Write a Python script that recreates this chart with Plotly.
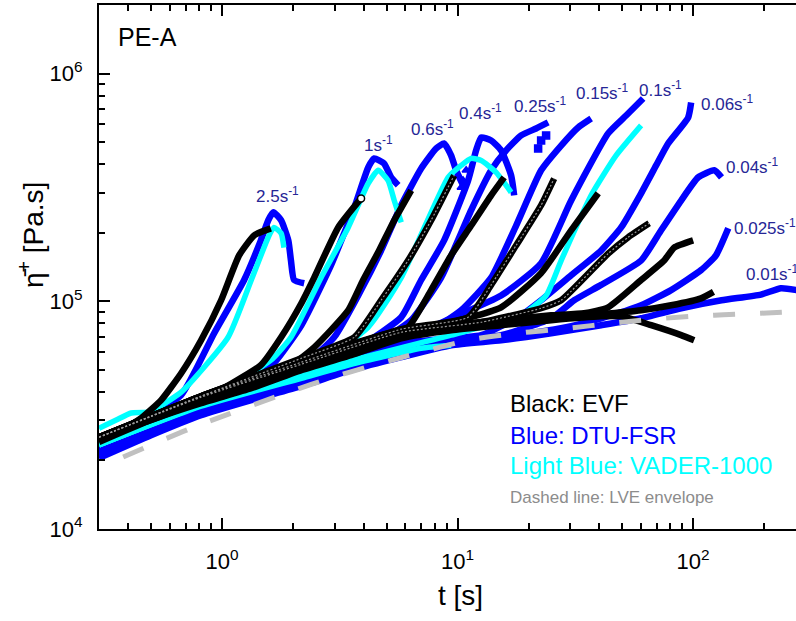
import math
import plotly.graph_objects as go

# ---------------- EVF (black) ----------------
t_evf_2p5 = [0.30, 0.372, 0.453, 0.551, 0.670, 0.814, 0.99, 1.18, 1.37, 1.61]
eta_evf_2p5 = [24600, 27200, 30700, 36800, 48300, 67400, 101000, 159000, 195000, 209000]
t_evf_1 = [0.30, 0.499, 0.814, 1.46, 1.78, 2.17, 2.46, 3.11, 3.89]
eta_evf_1 = [25100, 30100, 36800, 52400, 69500, 98000, 127000, 211000, 283000]
t_evf_0p6 = [0.30, 0.814, 1.78, 2.46, 3.43, 3.97, 4.64, 5.32, 6.35]
eta_evf_0p6 = [25100, 37500, 48800, 62800, 91300, 124000, 167000, 222000, 307000]
t_evf_0p4 = [0.30, 0.814, 2.17, 3.64, 4.73, 6.16, 7.72, 9.66]
eta_evf_0p4 = [25300, 38300, 56200, 69500, 101000, 151000, 227000, 357000]
t_evf_0p25 = [0.30, 0.814, 2.17, 4.73, 6.16, 7.72, 9.38, 11.41, 13.88, 15.76]
eta_evf_0p25 = [25300, 38300, 55100, 71000, 76900, 112000, 159000, 215000, 292000, 350000]
t_evf_0p15 = [0.30, 0.814, 2.17, 5.76, 11.08, 13.88, 17.72, 22.62, 25.69]
eta_evf_0p15 = [25300, 38300, 54000, 75400, 85100, 118000, 176000, 264000, 346000]
t_evf_0p1 = [0.30, 0.814, 2.17, 5.76, 9.38, 15.30, 22.62, 30.34, 39.52]
eta_evf_0p1 = [25300, 38300, 54000, 74600, 80900, 94100, 133000, 205000, 298000]
t_evf_0p06 = [0.30, 0.814, 2.17, 5.76, 12.59, 22.62, 27.51, 43.56, 52.97, 65.04]
eta_evf_0p06 = [25300, 37900, 52900, 73100, 80900, 93200, 101000, 162000, 191000, 220000]
t_evf_0p04 = [0.30, 0.814, 2.17, 5.76, 9.38, 15.30, 24.95, 34.45, 43.56, 60.14, 75.31, 83.05, 100]
eta_evf_0p04 = [25100, 37500, 52400, 72400, 78500, 82600, 86800, 88600, 94100, 124000, 151000, 172000, 185000]
t_evf_0p025 = [0.30, 0.499, 0.814, 1.33, 2.17, 3.53, 5.76, 9.38, 15.30, 24.95, 40.67, 60.14, 80.64, 108, 122]
eta_evf_0p025 = [24600, 31000, 36800, 42800, 51300, 61000, 71000, 76900, 80900, 84200, 87700, 91300, 96000, 103000, 110000]
t_evf_0p01 = [0.30, 0.499, 0.814, 1.33, 2.17, 3.53, 5.76, 9.38, 15.30, 24.95, 40.67, 49.46, 66.33, 88.92, 101]
eta_evf_0p01 = [24100, 30100, 35700, 41500, 49800, 58000, 68800, 74600, 78500, 82600, 85900, 85900, 78500, 71000, 67400]
t_evf_tri = [129, 135, 135, 142]
eta_evf_tri = [101000, 91300, 82600, 72400]
t_evf_start = [0.312, 0.325, 0.338, 0.358]
eta_evf_start = [20500, 19700, 21100, 19100]

# ---------------- DTU-FSR (blue) ----------------
t_dtu_2p5 = [0.30, 0.453, 0.670, 0.925, 1.24, 1.46, 1.57, 1.65, 1.78, 1.91, 1.96, 2.02, 2.23]
eta_dtu_2p5 = [21100, 29500, 38700, 72400, 124000, 185000, 227000, 246000, 227000, 185000, 151000, 124000, 120000]
t_dtu_1 = [0.30, 0.814, 1.33, 1.70, 2.17, 2.90, 3.64, 4.17, 4.42, 4.87, 5.22, 5.59]
eta_dtu_1 = [21800, 33900, 43700, 55100, 78500, 144000, 258000, 387000, 424000, 403000, 350000, 323000]
t_dtu_1_pts = [5.76, 5.93, 6.04, 6.22, 6.35, 6.54, 6.66, 6.86, 7.00]
eta_dtu_1_pts = [210000, 200000, 215000, 210000, 222000, 205000, 225000, 215000, 200000]
t_dtu_0p6 = [0.30, 0.814, 1.96, 2.99, 3.89, 4.73, 5.76, 7.00, 8.11, 8.76, 9.38, 9.85, 10.55]
eta_dtu_0p6 = [22200, 35000, 47400, 69500, 112000, 167000, 264000, 383000, 469000, 493000, 437000, 376000, 323000]
t_dtu_0p6_pts = [10.05, 10.55, 10.87, 10.35]
eta_dtu_0p6_pts = [357000, 339000, 376000, 316000]
t_dtu_0p4 = [0.30, 0.814, 2.17, 3.89, 5.76, 7.00, 8.76, 11.08, 11.98, 12.59, 13.88, 15.30, 16.87, 17.38]
eta_dtu_0p4 = [22200, 35000, 49800, 64100, 85100, 124000, 185000, 339000, 460000, 524000, 508000, 460000, 357000, 292000]
t_dtu_0p4_pts = [13.21, 14.57, 16.07, 13.88, 15.30, 16.87, 14.86, 16.39, 17.72, 12.59]
eta_dtu_0p4_pts = [562000, 592000, 535000, 460000, 395000, 415000, 339000, 307000, 323000, 483000]
t_dtu_0p25 = [0.30, 0.814, 2.17, 4.73, 6.35, 8.51, 11.41, 13.88, 16.07, 18.61, 21.54, 24.23]
eta_dtu_0p25 = [22200, 34600, 49800, 67400, 82600, 127000, 251000, 376000, 460000, 535000, 574000, 610000]
t_dtu_0p25_pts = [22.62, 21.97, 23.75]
eta_dtu_0p25_pts = [508000, 469000, 535000]
t_dtu_0p15 = [0.30, 0.814, 2.17, 5.76, 7.72, 10.35, 13.88, 17.72, 22.62, 27.51, 32.49, 36.90]
eta_dtu_0p15 = [22200, 34600, 48800, 67400, 74600, 91300, 127000, 215000, 376000, 483000, 580000, 635000]
t_dtu_0p15_pts = [33.4, 36.9, 39.5, 41.9, 40.7, 35.1, 38.7, 42.7]
eta_dtu_0p15_pts = [592000, 562000, 622000, 688000, 535000, 508000, 483000, 592000]
t_dtu_0p1 = [0.30, 0.814, 2.17, 5.76, 9.38, 15.30, 22.62, 30.34, 43.56, 51.93, 61.33]
eta_dtu_0p1 = [22200, 34600, 48800, 67400, 84200, 106000, 147000, 277000, 546000, 654000, 777000]
t_dtu_0p06 = [0.30, 0.814, 2.17, 5.76, 12.59, 18.61, 22.62, 30.34, 40.67, 49.46, 60.14, 69.65, 78.30, 95.24, 98.06]
eta_dtu_0p06 = [22200, 34300, 47900, 65400, 71000, 86800, 101000, 130000, 167000, 211000, 298000, 395000, 493000, 641000, 746000]
t_dtu_0p06_pts = [101, 93.4, 84.7, 73.1, 80.6, 103]
eta_dtu_0p06_pts = [524000, 562000, 460000, 415000, 535000, 622000]
t_dtu_0p04 = [0.30, 0.814, 2.17, 5.76, 15.30, 24.95, 31.24, 40.67, 60.14, 73.13, 88.92, 105, 123, 132]
eta_dtu_0p04 = [21800, 33900, 47400, 64100, 71000, 84200, 101000, 118000, 151000, 205000, 277000, 350000, 376000, 350000]
t_dtu_0p025 = [0.30, 0.814, 2.17, 5.76, 15.30, 27.51, 40.67, 60.14, 80.64, 108, 125, 141]
eta_dtu_0p025 = [21100, 33300, 45000, 61000, 69500, 76100, 84200, 96000, 112000, 137000, 159000, 209000]
t_dtu_0p025_pts = [132, 138, 129, 141]
eta_dtu_0p025_pts = [185000, 167000, 151000, 148000]
t_dtu_0p01 = [0.30, 0.499, 0.814, 1.33, 2.17, 3.53, 5.76, 9.38, 15.30, 24.95, 40.67, 60.14, 88.92, 132, 194, 236, 276]
eta_dtu_0p01 = [20500, 25800, 31600, 36800, 42400, 49800, 56800, 64100, 67400, 72400, 78500, 84200, 93200, 101000, 107000, 114000, 112000]

# ---------------- VADER-1000 (light blue) ----------------
t_vad_2p5 = [0.30, 0.453, 0.670, 1.06, 1.33, 1.57, 1.66, 1.78, 1.83]
eta_vad_2p5 = [23400, 30700, 39900, 69500, 124000, 191000, 211000, 199000, 172000]
t_vad_1 = [0.30, 0.814, 1.61, 1.96, 2.63, 3.43, 4.17, 4.60, 5.07, 5.38, 5.76]
eta_vad_1 = [24100, 36100, 55100, 69500, 127000, 211000, 329000, 376000, 339000, 277000, 222000]
t_vad_0p4 = [0.30, 0.814, 2.17, 4.17, 5.76, 9.11, 10.35, 11.41, 12.59, 14.57, 16.87]
eta_vad_0p4 = [23400, 35000, 48300, 76900, 127000, 350000, 395000, 424000, 415000, 368000, 301000]
t_vad_0p1 = [0.30, 0.814, 2.17, 9.38, 18.61, 23.75, 27.51, 36.90, 47.10, 60.14]
eta_vad_0p1 = [23400, 35000, 48300, 71000, 86800, 106000, 151000, 292000, 437000, 592000]
t_vad_low = [0.30, 0.814, 2.17, 3.53, 7.00, 9.38]
eta_vad_low = [23400, 34600, 45900, 52900, 62200, 64100]
t_vad_start = [0.30, 0.355, 0.411, 0.499]
eta_vad_start = [27700, 30100, 32300, 32600]

# ---------------- LVE envelope ----------------
t_lve = [0.38, 0.739, 1.18, 1.87, 2.96, 4.73, 7.0, 11.1, 18.1, 29.5, 46.2, 75.3, 123, 194, 276]
eta_lve = [20700, 27700, 33260, 39500, 46400, 53500, 59700, 67400, 72400, 76200, 80200, 84200, 86900, 88600, 90300]

# ---------------- labels ----------------
rate_labels = ["2.5", "1", "0.6", "0.4", "0.25", "0.15", "0.1", "0.06", "0.04", "0.025", "0.01"]
rate_label_t = [1.36, 3.93, 6.2, 9.95, 17.0, 31.1, 57.8, 106, 135, 146, 165]
rate_label_eta = [292000, 493000, 574000, 675000, 725000, 826000, 859000, 746000, 394000, 211000, 133000]

BLACK = "#000000"
BLUE = "#0000ff"
CYAN = "#00ffff"
FONT = "Liberation Sans, Arial, sans-serif"

fig = go.Figure()


def add_line(t, eta, color, width=6.5):
    fig.add_trace(go.Scatter(x=t, y=eta, mode="lines",
                             line=dict(color=color, width=width, shape="spline", smoothing=0.5),
                             hoverinfo="skip", showlegend=False))


def add_pts(t, eta, color, symbol, size=7, fill=None):
    fig.add_trace(go.Scatter(x=t, y=eta, mode="markers",
                             marker=dict(symbol=symbol, size=size, color=fill if fill else "rgba(0,0,0,0)",
                                         line=dict(color=color, width=1.5)),
                             hoverinfo="skip", showlegend=False, cliponaxis=True))


# blue (bottom)
for t, e in [(t_dtu_0p01, eta_dtu_0p01), (t_dtu_0p025, eta_dtu_0p025), (t_dtu_0p04, eta_dtu_0p04),
             (t_dtu_0p06, eta_dtu_0p06), (t_dtu_0p1, eta_dtu_0p1), (t_dtu_0p15, eta_dtu_0p15),
             (t_dtu_0p25, eta_dtu_0p25), (t_dtu_0p4, eta_dtu_0p4), (t_dtu_0p6, eta_dtu_0p6),
             (t_dtu_1, eta_dtu_1), (t_dtu_2p5, eta_dtu_2p5)]:
    add_line(t, e, BLUE)
add_pts(t_dtu_1_pts, eta_dtu_1_pts, BLUE, "circle-open", 8)
add_pts(t_dtu_0p6_pts, eta_dtu_0p6_pts, BLUE, "triangle-up", 7, BLUE)
add_pts(t_dtu_0p4_pts, eta_dtu_0p4_pts, BLUE, "triangle-down-open", 8)
add_pts(t_dtu_0p25_pts, eta_dtu_0p25_pts, BLUE, "square", 7, BLUE)
add_pts(t_dtu_0p15_pts, eta_dtu_0p15_pts, BLUE, "square-open", 7)
add_pts(t_dtu_0p06_pts, eta_dtu_0p06_pts, BLUE, "triangle-up-open", 7)
add_pts(t_dtu_0p025_pts, eta_dtu_0p025_pts, BLUE, "triangle-right-open", 7)

# light blue
for t, e in [(t_vad_low, eta_vad_low), (t_vad_0p1, eta_vad_0p1), (t_vad_0p4, eta_vad_0p4),
             (t_vad_1, eta_vad_1), (t_vad_2p5, eta_vad_2p5), (t_vad_start, eta_vad_start)]:
    add_line(t, e, CYAN, 5.5)

# black (top)
for t, e in [(t_evf_0p01, eta_evf_0p01), (t_evf_0p025, eta_evf_0p025), (t_evf_0p04, eta_evf_0p04),
             (t_evf_0p06, eta_evf_0p06), (t_evf_0p1, eta_evf_0p1), (t_evf_0p15, eta_evf_0p15),
             (t_evf_0p25, eta_evf_0p25), (t_evf_0p4, eta_evf_0p4), (t_evf_0p6, eta_evf_0p6),
             (t_evf_1, eta_evf_1), (t_evf_2p5, eta_evf_2p5)]:
    add_line(t, e, BLACK)
for t, e in [(t_evf_0p4, eta_evf_0p4), (t_evf_0p15, eta_evf_0p15), (t_evf_0p06, eta_evf_0p06)]:
    fig.add_trace(go.Scatter(x=t, y=e, mode="lines",
                             line=dict(color="#9a9a9a", width=1.2, dash="2px,2px", shape="spline", smoothing=0.5),
                             hoverinfo="skip", showlegend=False))
add_pts(t_evf_tri, eta_evf_tri, BLACK, "triangle-right-open", 7)
add_pts(t_evf_start, eta_evf_start, BLACK, "x-thin-open", 7)
add_pts([t_evf_1[-1]], [eta_evf_1[-1]], BLACK, "circle", 7, "white")

# LVE envelope
fig.add_trace(go.Scatter(x=t_lve, y=eta_lve, mode="lines",
                         line=dict(color="#c0c0c0", width=5, dash="22px,25px", shape="spline"),
                         hoverinfo="skip", showlegend=False))

annotations = []
for lab, tx, ey in zip(rate_labels, rate_label_t, rate_label_eta):
    annotations.append(dict(x=math.log10(tx), y=math.log10(ey), xref="x", yref="y",
                            text=lab + "s<sup>-1</sup>", showarrow=False, xanchor="left", yanchor="middle",
                            font=dict(family=FONT, size=17, color="#262696")))

legend_lines = [("Black: EVF", BLACK, 24, 35700), ("Blue: DTU-FSR", BLUE, 24, 25800),
                ("Light Blue: VADER-1000", CYAN, 24, 19100), ("Dashed line: LVE envelope", "#8c8c8c", 17, 13700)]
for txt, col, sz, ey in legend_lines:
    annotations.append(dict(x=math.log10(16.4), y=math.log10(ey), xref="x", yref="y", text=txt,
                            showarrow=False, xanchor="left", yanchor="middle",
                            font=dict(family=FONT, size=sz, color=col)))

annotations.append(dict(x=math.log10(0.355), y=math.log10(1440000), xref="x", yref="y", text="PE-A",
                        showarrow=False, xanchor="left", yanchor="middle",
                        font=dict(family=FONT, size=25, color="black")))
annotations.append(dict(x=-0.0976, y=0.561, xref="paper", yref="paper", text="η\u0304<sup>+</sup> [Pa.s]",
                        showarrow=False, xanchor="center", yanchor="middle", textangle=-90,
                        font=dict(family=FONT, size=28, color="black")))
annotations.append(dict(x=0.518, y=-0.126, xref="paper", yref="paper", text="t [s]",
                        showarrow=False, xanchor="center", yanchor="middle",
                        font=dict(family=FONT, size=28, color="black")))

x_minor = [0.4, 0.5, 0.6, 0.7, 0.8, 0.9, 2, 3, 4, 5, 6, 7, 8, 9, 20, 30, 40, 50, 60, 70, 80, 90, 200]
y_minor = [v * m for m in (1e4, 1e5) for v in range(2, 10)] + [2e6]

fig.update_layout(
    width=796, height=621,
    margin=dict(l=99, r=0, t=5, b=92),
    paper_bgcolor="white", plot_bgcolor="white",
    font=dict(family=FONT, size=22, color="black"),
    annotations=annotations,
    xaxis=dict(type="log", range=[math.log10(0.3), 2.4368], showgrid=False, zeroline=False,
               showline=True, linecolor="black", linewidth=2, mirror="ticks",
               ticks="inside", ticklen=11, tickwidth=2, tickcolor="black",
               tickvals=[1, 10, 100], ticktext=["10<sup>0</sup>", "10<sup>1</sup>", "10<sup>2</sup>"],
               ticklabelstandoff=12,
               minor=dict(ticks="inside", ticklen=6, tickwidth=1.5, tickcolor="black",
                          tickmode="array", tickvals=x_minor, showgrid=False)),
    yaxis=dict(type="log", range=[4, math.log10(2e6)], showgrid=False, zeroline=False,
               showline=True, linecolor="black", linewidth=2, mirror=False,
               ticks="inside", ticklen=11, tickwidth=2, tickcolor="black",
               tickvals=[1e4, 1e5, 1e6], ticktext=["10<sup>4</sup>", "10<sup>5</sup>", "10<sup>6</sup>"],
               ticklabelstandoff=10,
               minor=dict(ticks="inside", ticklen=6, tickwidth=1.5, tickcolor="black",
                          tickmode="array", tickvals=y_minor, showgrid=False)),
)

fig.write_html("out.html", config={"displayModeBar": False},
               post_script="document.body.style.margin='0';document.body.style.padding='0';"
                           "document.body.style.overflow='hidden';")
